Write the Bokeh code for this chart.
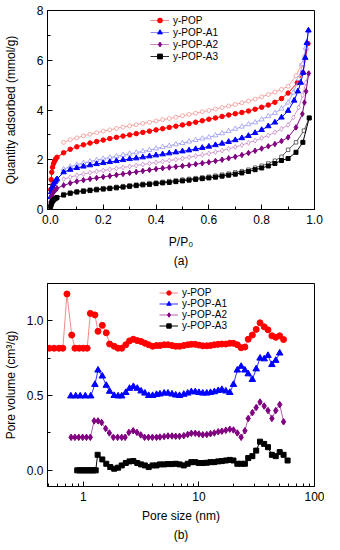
from bokeh.plotting import figure
from bokeh.models import (Range1d, SingleIntervalTicker, FixedTicker, Legend, LegendItem,
                          Title, PrintfTickFormatter, NumeralTickFormatter)
from bokeh.layouts import column
from bokeh.embed import file_html
from bokeh.resources import INLINE

FONT = "Liberation Sans"
NAN = float("nan")

# ---------------- (a) isotherms ----------------
base_x = [0.001, 0.003, 0.005, 0.008, 0.012, 0.016, 0.02, 0.025,
          0.05, 0.075, 0.1, 0.125, 0.15, 0.175, 0.2, 0.225, 0.25, 0.275, 0.3, 0.325,
          0.35, 0.375, 0.4, 0.425, 0.45, 0.475, 0.5, 0.525, 0.55, 0.575, 0.6, 0.625,
          0.65, 0.675, 0.7, 0.725, 0.75, 0.775, 0.8, 0.825, 0.85, 0.875, 0.9]
des_base_x = [0.05, 0.075, 0.1, 0.125, 0.15, 0.175, 0.2, 0.225, 0.25, 0.275, 0.3, 0.325,
              0.35, 0.375, 0.4, 0.425, 0.45, 0.475, 0.5, 0.525, 0.55, 0.575, 0.6, 0.625,
              0.65, 0.675, 0.7, 0.725, 0.75, 0.775, 0.8, 0.825, 0.85, 0.875, 0.9]

pop_ads_y = [0.8, 1.2, 1.5, 1.7, 1.85, 1.95, 2.03, 2.1,
             2.28, 2.42, 2.52, 2.6, 2.67, 2.73, 2.79, 2.85, 2.9, 2.95, 3.0, 3.05,
             3.1, 3.15, 3.2, 3.25, 3.3, 3.35, 3.4, 3.45, 3.51, 3.57, 3.63, 3.68,
             3.74, 3.8, 3.85, 3.9, 3.96, 4.03, 4.11, 4.2, 4.31, 4.46, 4.68]
pop_ads_tail_x = [0.935, 0.956, 0.975]
pop_ads_tail_y = [5.1, 5.5, 6.67]
pop_des_y = [2.7, 2.8, 2.88, 2.96, 3.03, 3.09, 3.15, 3.2, 3.26, 3.31, 3.36, 3.41,
             3.46, 3.51, 3.56, 3.61, 3.66, 3.71, 3.77, 3.82, 3.87, 3.93, 3.98, 4.04,
             4.1, 4.16, 4.22, 4.29, 4.36, 4.44, 4.53, 4.62, 4.72, 4.83, 4.95]
pop_des_tail_x = [0.93, 0.95, 0.962, 0.97, 0.975]
pop_des_tail_y = [5.38, 5.8, 6.15, 6.45, 6.67]

a1_ads_y = [0.5, 0.7, 0.82, 0.93, 1.03, 1.1, 1.16, 1.22,
            1.5, 1.6, 1.67, 1.73, 1.78, 1.83, 1.87, 1.91, 1.95, 1.99, 2.03, 2.06,
            2.1, 2.14, 2.18, 2.22, 2.26, 2.3, 2.34, 2.38, 2.43, 2.48, 2.53, 2.59,
            2.65, 2.72, 2.79, 2.87, 2.96, 3.08, 3.2, 3.35, 3.5, 3.7, 3.97]
a1_ads_tail_x = [0.923, 0.937, 0.948, 0.957, 0.965, 0.971, 0.977]
a1_ads_tail_y = [4.38, 4.75, 5.1, 5.5, 6.1, 6.7, 7.2]
a1_des_y = [1.62, 1.72, 1.8, 1.87, 1.93, 1.99, 2.04, 2.09, 2.14, 2.19, 2.24, 2.29,
            2.34, 2.39, 2.45, 2.51, 2.56, 2.62, 2.67, 2.73, 2.79, 2.85, 2.9, 2.98,
            3.06, 3.15, 3.24, 3.33, 3.42, 3.5, 3.62, 3.75, 3.88, 4.05, 4.3]
a1_des_tail_x = [0.92, 0.94, 0.955, 0.967, 0.977]
a1_des_tail_y = [4.7, 5.25, 5.85, 6.5, 7.2]

a2_ads_y = [0.3, 0.45, 0.55, 0.63, 0.7, 0.75, 0.8, 0.85,
            0.97, 1.06, 1.13, 1.18, 1.23, 1.27, 1.31, 1.35, 1.39, 1.43, 1.47, 1.51,
            1.55, 1.59, 1.63, 1.66, 1.69, 1.72, 1.75, 1.78, 1.82, 1.86, 1.9, 1.95,
            2.0, 2.06, 2.12, 2.19, 2.27, 2.36, 2.45, 2.54, 2.63, 2.75, 2.9]
a2_ads_tail_x = [0.93, 0.954, 0.962, 0.968, 0.978]
a2_ads_tail_y = [3.3, 3.84, 4.3, 4.75, 5.47]
a2_des_y = [1.22, 1.3, 1.37, 1.43, 1.48, 1.53, 1.57, 1.61, 1.65, 1.69, 1.73, 1.77,
            1.81, 1.85, 1.89, 1.93, 1.97, 2.01, 2.05, 2.1, 2.15, 2.2, 2.25, 2.31,
            2.37, 2.44, 2.51, 2.59, 2.68, 2.77, 2.87, 2.98, 3.1, 3.24, 3.4]
a2_des_tail_x = [0.92, 0.94, 0.955, 0.967, 0.978]
a2_des_tail_y = [3.7, 4.1, 4.6, 5.1, 5.47]

a3_ads_y = [0.12, 0.2, 0.27, 0.33, 0.38, 0.42, 0.45, 0.48,
            0.58, 0.65, 0.7, 0.73, 0.76, 0.79, 0.82, 0.84, 0.87, 0.9, 0.93, 0.96,
            0.99, 1.01, 1.04, 1.07, 1.09, 1.12, 1.15, 1.18, 1.21, 1.24, 1.27, 1.3,
            1.34, 1.38, 1.42, 1.47, 1.53, 1.6, 1.67, 1.75, 1.85, 1.97, 2.05]
a3_ads_tail_x = [0.93, 0.956, 0.98]
a3_ads_tail_y = [2.3, 2.7, 3.68]
a3_des_y = [0.62, 0.68, 0.73, 0.77, 0.8, 0.83, 0.86, 0.88, 0.91, 0.94, 0.97, 1.0,
            1.03, 1.06, 1.08, 1.11, 1.14, 1.17, 1.2, 1.23, 1.26, 1.29, 1.32, 1.36,
            1.4, 1.44, 1.49, 1.54, 1.6, 1.68, 1.76, 1.85, 1.96, 2.12, 2.4]
a3_des_tail_x = [0.93, 0.96, 0.98]
a3_des_tail_y = [2.7, 3.17, 3.68]

# ---------------- (b) pore size distributions ----------------
pop_psd_x = [0.508, 0.559, 0.615, 0.665, 0.722, 0.794, 0.846, 0.92, 1.0, 1.08,
             1.15, 1.26, 1.34, 1.46, 1.58, 1.69, 1.85, 2.0, 2.15, 2.33, 2.51, 2.71,
             2.93, 3.16, 3.41, 3.68, 3.98, 4.3, 4.6, 5.0, 5.4, 5.85, 6.3, 6.8, 7.4,
             8.0, 8.6, 9.3, 10.0, 10.8, 11.7, 12.6, 13.6, 14.7, 15.8, 17.1, 18.5,
             19.9, 21.5, 23.2, 25.0, 26.7, 29.0, 31.3, 33.8, 36.7, 39.6, 42.8, 46.2,
             50.0, 54.0]
pop_psd_y = [0.817, 0.817, 0.817, 0.817, 1.18, 0.905, 0.817, 0.817, 0.817, 0.817,
             1.05, 1.04, 0.93, 0.97, 0.92, 0.845, 0.83, 0.817, 0.817, 0.84, 0.866, 0.877,
             0.868, 0.862, 0.851, 0.84, 0.83, 0.835, 0.835, 0.84, 0.84, 0.835, 0.83, 0.83,
             0.835, 0.84, 0.843, 0.843, 0.838, 0.833, 0.833, 0.835, 0.84, 0.843, 0.845,
             0.845, 0.85, 0.85, 0.84, 0.82, 0.825, 0.877, 0.905, 0.943, 0.987, 0.96,
             0.94, 0.9, 0.89, 0.9, 0.875]

a1_psd_x = [0.78, 0.86, 0.94, 1.04, 1.16, 1.26, 1.34, 1.46, 1.58, 1.69, 1.85, 2.0,
            2.15, 2.33, 2.51, 2.71, 2.93, 3.16, 3.41, 3.68, 3.98, 4.3, 4.6, 5.0, 5.4,
            5.85, 6.3, 6.8, 7.4, 8.0, 8.6, 9.3, 10.0, 10.8, 11.7, 12.6, 13.6, 14.7,
            15.8, 17.1, 18.5, 19.9, 21.5, 23.2, 25.0, 26.7, 29.0, 31.3, 33.8, 36.7,
            39.6, 42.8, 46.2, 50.0]
a1_psd_y = [0.497, 0.497, 0.497, 0.497, 0.497, 0.574, 0.67, 0.63, 0.568, 0.528, 0.5,
            0.497, 0.497, 0.52, 0.548, 0.56, 0.548, 0.53, 0.516, 0.5, 0.5, 0.507, 0.51,
            0.516, 0.516, 0.51, 0.503, 0.5, 0.508, 0.516, 0.525, 0.525, 0.52, 0.516,
            0.516, 0.52, 0.525, 0.533, 0.54, 0.53, 0.52, 0.574, 0.67, 0.695, 0.67,
            0.645, 0.607, 0.678, 0.75, 0.745, 0.768, 0.707, 0.735, 0.784]

a2_psd_x = [0.784, 0.846, 0.913, 0.987, 1.065, 1.15, 1.24, 1.34, 1.44, 1.56, 1.68,
            1.82, 1.98, 2.15, 2.3, 2.48, 2.7, 2.91, 3.14, 3.39, 3.66, 3.96, 4.3, 4.6,
            5.0, 5.4, 5.85, 6.3, 6.8, 7.4, 8.0, 8.6, 9.3, 10.0, 10.8, 11.7, 12.6,
            13.6, 14.7, 15.8, 17.1, 18.5, 19.9, 21.5, 23.2, 25.0, 26.7, 29.0, 31.3,
            33.8, 36.7, 39.6, 42.8, 46.2, 50.0, 54.0]
a2_psd_y = [0.221, 0.221, 0.221, 0.221, 0.221, 0.221, 0.331, 0.331, 0.32, 0.28, 0.25,
            0.221, 0.221, 0.221, 0.221, 0.254, 0.265, 0.254, 0.237, 0.221, 0.221, 0.221,
            0.221, 0.223, 0.226, 0.23, 0.23, 0.228, 0.228, 0.232, 0.24, 0.248, 0.248,
            0.243, 0.238, 0.24, 0.245, 0.25, 0.258, 0.262, 0.268, 0.275, 0.27, 0.25,
            0.221, 0.265, 0.347, 0.386, 0.42, 0.457, 0.43, 0.4, 0.347, 0.4, 0.44, 0.325]

a3_psd_x = [0.886, 0.93, 0.975, 1.02, 1.07, 1.12, 1.17, 1.22, 1.28, 1.33, 1.46, 1.58,
            1.71, 1.85, 2.0, 2.15, 2.33, 2.51, 2.71, 2.93, 3.16, 3.41, 3.68, 3.98, 4.3,
            4.6, 5.0, 5.4, 5.85, 6.3, 6.8, 7.4, 8.0, 8.6, 9.3, 10.0, 10.8, 11.7, 12.6,
            13.6, 14.7, 15.8, 17.1, 18.5, 19.9, 21.5, 23.2, 25.0, 26.7, 29.0, 31.3,
            33.8, 36.7, 39.6, 42.8, 46.2, 50.0, 54.0, 58.5]
a3_psd_y = [0.0, 0.0, 0.0, 0.0, 0.0, 0.0, 0.0, 0.0, 0.0, 0.104, 0.073, 0.044, 0.022,
            0.011, 0.018, 0.033, 0.049, 0.06, 0.062, 0.049, 0.04, 0.033, 0.022, 0.033,
            0.033, 0.04, 0.04, 0.042, 0.042, 0.044, 0.04, 0.033, 0.044, 0.055, 0.055,
            0.049, 0.049, 0.051, 0.055, 0.055, 0.06, 0.062, 0.066, 0.07, 0.066, 0.044,
            0.044, 0.044, 0.082, 0.095, 0.132, 0.192, 0.177, 0.155, 0.104, 0.095, 0.122,
            0.104, 0.066]

series_names = ["y-POP", "y-POP-A1", "y-POP-A2", "y-POP-A3"]
markers = ["circle", "triangle", "diamond", "square"]
main_colors = ["#ff0000", "#0000ff", "#800080", "#000000"]
light_colors = ["#f08a8a", "#8c8cf0", "#c47ec4", "#303030"]
psd_line_colors = ["#f08a8a", "#3030ff", "#b060b0", "#000000"]


def style(p):
    p.xgrid.visible = False
    p.ygrid.visible = False
    p.outline_line_color = "black"
    p.outline_line_alpha = 1
    p.outline_line_width = 1
    p.background_fill_color = "white"
    p.border_fill_color = "white"
    for ax in p.xaxis + p.yaxis:
        ax.major_tick_in = 5
        ax.major_tick_out = 0
        ax.minor_tick_in = 3
        ax.minor_tick_out = 0
        ax.axis_line_color = "black"
        ax.major_tick_line_color = "black"
        ax.minor_tick_line_color = "black"
        ax.major_label_text_font = FONT
        ax.major_label_text_font_size = "12px"
        ax.major_label_text_color = "black"
        ax.axis_label_text_font = FONT
        ax.axis_label_text_font_size = "12px"
        ax.axis_label_text_font_style = "normal"
        ax.axis_label_text_color = "black"
        ax.major_label_standoff = 4


def make_legend(p, line_cols, loc, entry_h, msize):
    # legend-only renderers: a single NaN row, so nothing is drawn in the plot area
    items = []
    for name, m, c, lc in zip(series_names, markers, main_colors, line_cols):
        r1 = p.line(x=[NAN], y=[NAN], line_color=lc, line_width=1)
        r2 = p.scatter(x=[NAN], y=[NAN], marker=m, size=msize, fill_color=c, line_color=c)
        items.append(LegendItem(label=name, renderers=[r1, r2]))
    leg = Legend(items=items, location=loc, orientation="vertical",
                 background_fill_alpha=0, border_line_alpha=0, padding=0, margin=0,
                 spacing=0, glyph_width=19, glyph_height=entry_h, label_height=entry_h,
                 label_standoff=4, label_text_font=FONT, label_text_font_size="10px",
                 label_text_color="black")
    p.add_layout(leg)


# ---------- figure (a) ----------
p1 = figure(width=324, height=268, x_range=Range1d(-0.011, 1.0), y_range=Range1d(0, 8),
            output_backend="svg", toolbar_location=None,
            min_border_left=41, min_border_right=10, min_border_top=10, min_border_bottom=59)
style(p1)
p1.xaxis.ticker = SingleIntervalTicker(interval=0.2, num_minor_ticks=2)
p1.yaxis.ticker = SingleIntervalTicker(interval=2, num_minor_ticks=2)
p1.xaxis.formatter = PrintfTickFormatter(format="%.1f")
p1.yaxis.formatter = PrintfTickFormatter(format="%d")
p1.xaxis.axis_label = "P/P\u2080"
p1.yaxis.axis_label = "Quantity adsorbed (mmol/g)"
p1.xaxis.axis_label_standoff = 8
p1.yaxis.axis_label_standoff = 16
p1.xaxis.major_label_standoff = 5

ads = [(base_x + pop_ads_tail_x, pop_ads_y + pop_ads_tail_y),
       (base_x + a1_ads_tail_x, a1_ads_y + a1_ads_tail_y),
       (base_x + a2_ads_tail_x, a2_ads_y + a2_ads_tail_y),
       (base_x + a3_ads_tail_x, a3_ads_y + a3_ads_tail_y)]
des = [(des_base_x + pop_des_tail_x, pop_des_y + pop_des_tail_y),
       (des_base_x + a1_des_tail_x, a1_des_y + a1_des_tail_y),
       (des_base_x + a2_des_tail_x, a2_des_y + a2_des_tail_y),
       (des_base_x + a3_des_tail_x, a3_des_y + a3_des_tail_y)]
sizes_a = [4.5, 5.5, 5.5, 4]
for i in range(4):
    dx, dy = des[i]
    p1.line(dx, dy, line_color=light_colors[i], line_width=0.8)
    p1.scatter(dx, dy, marker=markers[i], size=sizes_a[i] - 0.5, fill_color="white",
               line_color=light_colors[i], line_width=0.7)
    ax_, ay_ = ads[i]
    p1.line(ax_, ay_, line_color=main_colors[i], line_width=1)
    p1.scatter(ax_, ay_, marker=markers[i], size=sizes_a[i], fill_color=main_colors[i],
               line_color=main_colors[i])

make_legend(p1, light_colors, (103, 147), 12, 8)
p1.add_layout(Title(text="(a)", align="center", text_font=FONT, text_font_size="12px",
                    text_font_style="normal", text_color="black", standoff=0, offset=0),
              "below")

# ---------- figure (b) ----------
p2 = figure(width=324, height=274, x_axis_type="log", x_range=Range1d(0.49, 100),
            y_range=Range1d(-0.108, 1.25), output_backend="svg", toolbar_location=None,
            min_border_left=42, min_border_right=10, min_border_top=15, min_border_bottom=55)
style(p2)
p2.xaxis.ticker = FixedTicker(ticks=[1, 10, 100],
                              minor_ticks=[0.5, 0.6, 0.7, 0.8, 0.9, 2, 3, 4, 5, 6, 7, 8, 9,
                                           20, 30, 40, 50, 60, 70, 80, 90])
p2.xaxis.formatter = NumeralTickFormatter(format="0")
p2.yaxis.ticker = SingleIntervalTicker(interval=0.5, num_minor_ticks=2)
p2.yaxis.formatter = PrintfTickFormatter(format="%.1f")
p2.xaxis.axis_label = "Pore size (nm)"
p2.yaxis.axis_label = "Pore volume (cm\u00b3/g)"
p2.xaxis.axis_label_standoff = 5
p2.yaxis.axis_label_standoff = 6
p2.xaxis.major_label_standoff = 5

psd = [(pop_psd_x, pop_psd_y), (a1_psd_x, a1_psd_y), (a2_psd_x, a2_psd_y),
       (a3_psd_x, a3_psd_y)]
sizes_b = [6, 6.5, 6.5, 5]
for i in range(4):
    x, y = psd[i]
    p2.line(x, y, line_color=psd_line_colors[i], line_width=1)
    p2.scatter(x, y, marker=markers[i], size=sizes_b[i], fill_color=main_colors[i],
               line_color=main_colors[i])

make_legend(p2, psd_line_colors, (112, 155), 11, 9)
p2.add_layout(Title(text="(b)", align="center", text_font=FONT, text_font_size="12px",
                    text_font_style="normal", text_color="black", standoff=1, offset=0),
              "below")

layout = column(p1, p2)
open("out.html", "w").write(file_html(layout, INLINE))
